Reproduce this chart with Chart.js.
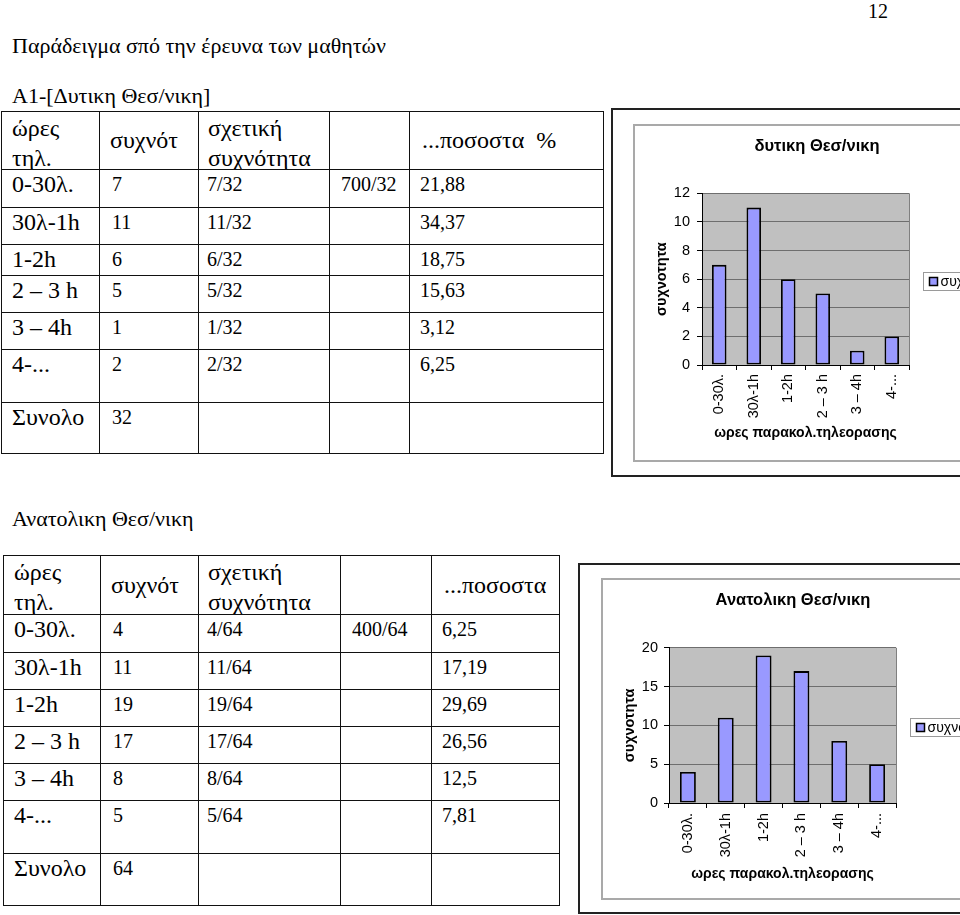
<!DOCTYPE html>
<html>
<head>
<meta charset="utf-8">
<script src="https://cdn.jsdelivr.net/npm/chart.js@4.4.1/dist/chart.umd.min.js"></script>
<style>
  html, body { margin: 0; padding: 0; background: #fff; }
  body { width: 960px; height: 915px; overflow: hidden; position: relative;
         font-family: "Liberation Serif", "Times New Roman", serif; color: #000; }
  .txt { position: absolute; white-space: nowrap; line-height: 1; }
  .cell { position: absolute; box-sizing: border-box; border: 1px solid #111; overflow: hidden; white-space: nowrap; }
  .lab { font-size: 24px; padding: 1px 0 0 10px; line-height: 27px; }
  .num { font-size: 20px; padding: 3px 0 0 10px; line-height: 23px; }
  .hd2 { font-size: 24px; line-height: 30px; padding: 1px 0 0 10px; }
  .hdc { font-size: 24px; display: flex; align-items: center; padding-left: 10px; }
  .frame { position: absolute; box-sizing: border-box; border: 2px solid #222; }
  .inner { position: absolute; box-sizing: border-box; border: 2px solid #a9a9a9; }
  canvas { position: absolute; }
</style>
</head>
<body>

<div class="txt" style="left:868px;top:1px;font-size:20px;">12</div>
<div class="txt" style="left:12px;top:35px;font-size:22px;">Παράδειγμα σπό την έρευνα των μαθητών</div>
<div class="txt" style="left:12px;top:85px;font-size:22px;">Α1-[Δυτικη Θεσ/νικη]</div>
<div class="txt" style="left:12px;top:508px;font-size:22px;">Ανατολικη Θεσ/νικη</div>

<div id="tables"></div>

<div class="frame" style="left:611px;top:108px;width:420px;height:369px;"></div>
<div class="inner" style="left:633px;top:124px;width:400px;height:338px;"></div>
<canvas id="chartWest" width="364" height="333" style="left:635px;top:126px;"></canvas>

<div class="frame" style="left:578px;top:563px;width:420px;height:351px;"></div>
<div class="inner" style="left:601px;top:578px;width:400px;height:322px;"></div>
<canvas id="chartEast" width="380" height="317" style="left:603px;top:580px;"></canvas>

<script>
// ---------------- DATA ----------------
const categories = ["0-30λ.", "30λ-1h", "1-2h", "2 – 3 h", "3 – 4h", "4-..."];
const seriesLabel = "συχνοτητα";

const freqWest = [7, 11, 6, 5, 1, 2];
const relWest = ["7/32", "11/32", "6/32", "5/32", "1/32", "2/32"];
const pctWest = ["21,88", "34,37", "18,75", "15,63", "3,12", "6,25"];
const extraWest = "700/32";
const totalWest = "32";

const freqEast = [4, 11, 19, 17, 8, 5];
const relEast = ["4/64", "11/64", "19/64", "17/64", "8/64", "5/64"];
const pctEast = ["6,25", "17,19", "29,69", "26,56", "12,5", "7,81"];
const extraEast = "400/64";
const totalEast = "64";

const headerHours = ["ώρες", "τηλ."];
const headerFreq = "συχνότ";
const headerRel = ["σχετική", "συχνότητα"];
const headerPctWest = "...ποσοστα\u00a0\u00a0%";
const headerPctEast = "...ποσοστα";
const totalLabel = "Συνολο";

const titleWest = "δυτικη Θεσ/νικη";
const titleEast = "Ανατολικη Θεσ/νικη";
const xTitle = "ωρες παρακολ.τηλεορασης";
const yTitle = "συχνοτητα";
const yMaxWest = 12, yStepWest = 2;
const yMaxEast = 20, yStepEast = 5;

// ---------------- TABLES ----------------
function buildTable(colX, rowY, freq, rel, pct, extra, total, pctHeader) {
  const host = document.getElementById('tables');
  function cell(ci, ri, cls, html, pl) {
    const d = document.createElement('div');
    d.className = 'cell ' + (cls || '');
    d.style.left = colX[ci] + 'px';
    d.style.top = rowY[ri] + 'px';
    d.style.width = (colX[ci + 1] - colX[ci] + 1) + 'px';
    d.style.height = (rowY[ri + 1] - rowY[ri] + 1) + 'px';
    if (pl !== undefined) d.style.paddingLeft = pl + 'px';
    d.innerHTML = html || '';
    host.appendChild(d);
  }
  cell(0, 0, 'hd2', headerHours.join('<br>'));
  cell(1, 0, 'hdc', headerFreq);
  cell(2, 0, 'hd2', headerRel.join('<br>'), 9);
  cell(3, 0, '', '');
  cell(4, 0, 'hdc', pctHeader, 12);
  for (let i = 0; i < categories.length; i++) {
    const r = i + 1;
    cell(0, r, 'lab', categories[i]);
    cell(1, r, 'num', String(freq[i]), 12);
    cell(2, r, 'num', rel[i], 8);
    cell(3, r, 'num', i === 0 ? extra : '', 11);
    cell(4, r, 'num', pct[i], 10);
  }
  const rt = categories.length + 1;
  cell(0, rt, 'lab', totalLabel);
  cell(1, rt, 'num', total, 12);
  cell(2, rt, '', '');
  cell(3, rt, '', '');
  cell(4, rt, '', '');
}
buildTable([1, 99, 198, 329, 409, 603], [111, 169, 207, 244, 275, 312, 349, 402, 453],
  freqWest, relWest, pctWest, extraWest, totalWest, headerPctWest);
buildTable([3, 100, 198, 340, 431, 559], [555, 614, 652, 689, 726, 763, 800, 853, 905],
  freqEast, relEast, pctEast, extraEast, totalEast, headerPctEast);

// ---------------- CHARTS ----------------
Chart.defaults.font.family = '"Liberation Sans", Arial, sans-serif';
Chart.defaults.color = '#000';

const plotDeco = {
  id: 'plotDeco',
  beforeDraw(chart) {
    const { ctx, chartArea: a } = chart;
    ctx.save();
    ctx.fillStyle = '#c0c0c0';
    ctx.fillRect(a.left, a.top, a.right - a.left, a.bottom - a.top);
    ctx.restore();
  },
  afterDraw(chart) {
    const { ctx, chartArea: a } = chart;
    ctx.save();
    ctx.strokeStyle = '#808080';
    ctx.lineWidth = 1;
    ctx.beginPath();
    ctx.moveTo(Math.round(a.right) + 0.5, a.top);
    ctx.lineTo(Math.round(a.right) + 0.5, a.bottom);
    ctx.stroke();
    // legend box
    const ds = chart.data.datasets[0];
    const bx = Math.round(a.right) + 14.5;
    const cy = Math.round((a.top + a.bottom) / 2) + 3;
    ctx.fillStyle = '#fff';
    ctx.fillRect(bx, cy - 9, 140, 18);
    ctx.strokeStyle = '#9a9a9a';
    ctx.strokeRect(bx, cy - 9.5, 140, 18);
    ctx.fillStyle = ds.backgroundColor;
    ctx.fillRect(bx + 6, cy - 4.5, 8, 8);
    ctx.strokeStyle = '#000';
    ctx.lineWidth = 1.5;
    ctx.strokeRect(bx + 6, cy - 4.5, 8, 8);
    ctx.fillStyle = '#000';
    ctx.font = '14px "Liberation Sans", Arial, sans-serif';
    ctx.textBaseline = 'middle';
    ctx.textAlign = 'left';
    ctx.fillText(ds.label, bx + 17, cy);
    ctx.restore();
  }
};

function makeChart(id, title, values, yMax, yStep, g) {
  return new Chart(document.getElementById(id), {
    type: 'bar',
    data: {
      labels: categories,
      datasets: [{
        label: seriesLabel,
        data: values,
        backgroundColor: '#9999ff',
        borderColor: '#000',
        borderWidth: 1.8,
        borderSkipped: false,
        barPercentage: 0.42,
        categoryPercentage: 1.0
      }]
    },
    options: {
      responsive: false,
      animation: false,
      devicePixelRatio: 1,
      layout: { padding: 0 },
      plugins: {
        legend: { display: false },
        tooltip: { enabled: false },
        title: {
          display: true, text: title, color: '#000',
          font: { size: 16.5, weight: 'bold' },
          padding: { top: 11, bottom: g.titleBottom }
        }
      },
      scales: {
        x: {
          grid: { display: true, drawOnChartArea: false, drawTicks: true, tickLength: 5, color: '#000', offset: true },
          border: { display: true, color: '#000', width: 1 },
          ticks: { minRotation: 90, maxRotation: 90, autoSkip: false, padding: g.xTickPad, font: { size: 14.5 }, color: '#000' },
          title: { display: true, text: xTitle, color: '#000', font: { size: 14, weight: 'bold' }, padding: { top: 0, bottom: g.xTitleBottom } },
          afterFit: (s) => { s.height = g.xHeight; }
        },
        y: {
          min: 0, max: yMax,
          grid: { color: '#6e6e6e', tickColor: '#000', tickLength: 5, drawTicks: true },
          border: { display: true, color: '#000', width: 1 },
          ticks: { stepSize: yStep, padding: g.yTickPad, font: { size: 14.5 }, color: '#000' },
          title: { display: true, text: yTitle, color: '#000', font: { size: 14.5, weight: 'bold' }, padding: { top: g.yTitleTop, bottom: 0 } },
          afterFit: (s) => { s.width = g.yWidth; }
        },
        legendSpace: {
          type: 'linear', position: 'right', display: true,
          grid: { display: false }, border: { display: false }, ticks: { display: false },
          afterFit: (s) => { s.width = g.padRight; }
        }
      }
    },
    plugins: [plotDeco]
  });
}

makeChart('chartWest', titleWest, freqWest, yMaxWest, yStepWest,
  { padRight: 90, titleBottom: 36.5, xTickPad: 4, xTitleBottom: 17, xHeight: 94, yTickPad: 7, yTitleTop: 18, yWidth: 67 });
makeChart('chartEast', titleEast, freqEast, yMaxEast, yStepEast,
  { padRight: 87, titleBottom: 37, xTickPad: 5, xTitleBottom: 14, xHeight: 94, yTickPad: 6, yTitleTop: 18.3, yWidth: 66 });
</script>
</body>
</html>
